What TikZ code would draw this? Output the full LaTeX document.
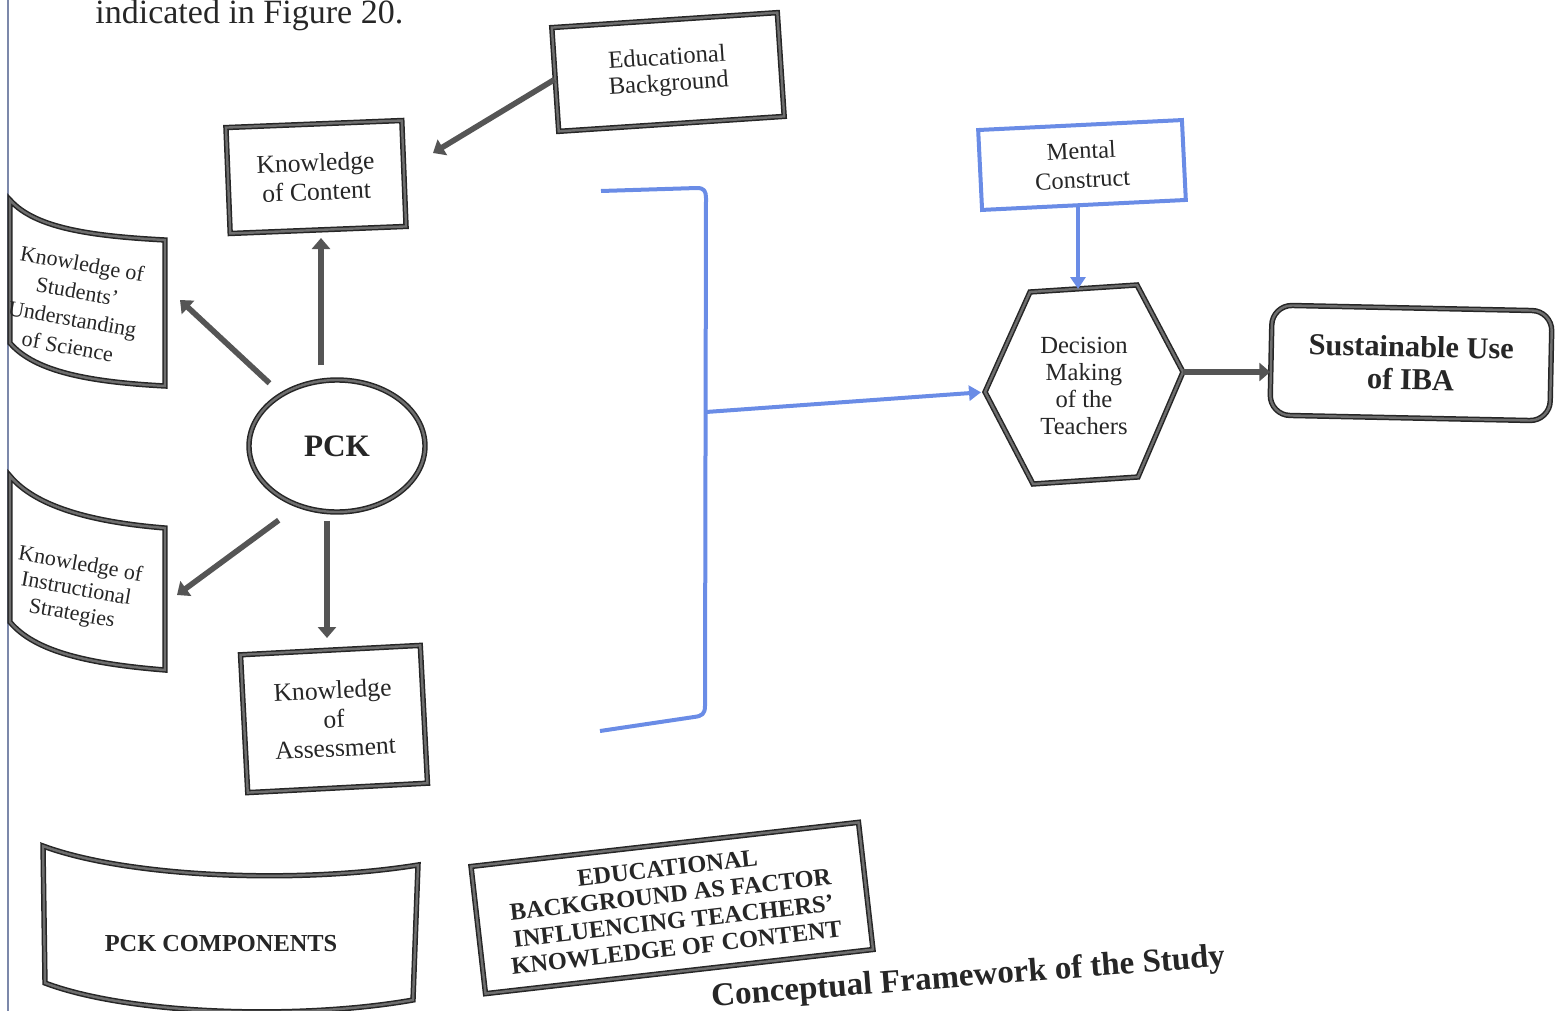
\documentclass[tikz,border=0pt]{standalone}
\usepackage{fontspec}
\setmainfont{Liberation Serif}
\usetikzlibrary{arrows.meta,calc,shapes.geometric}

\definecolor{ink}{HTML}{262626}
\definecolor{framecore}{HTML}{6E6E6E}
\definecolor{arrowgray}{HTML}{555555}
\definecolor{linkblue}{HTML}{6A8CE6}
\definecolor{pageline}{HTML}{7C88AA}

\tikzset{
  frame/.style={draw=ink, line width=0.75pt, double=framecore, double distance=1.2pt},
  box/.style={frame, fill=white, align=center, inner sep=2pt, text=ink,
    font=\fontsize{12.3}{14}\selectfont},
  bluebox/.style={draw=linkblue, line width=2pt, fill=white, align=center, text=ink,
    inner sep=2pt, font=\fontsize{12.2}{14.5}\selectfont},
  arr/.style={draw=arrowgray, line width=2.8pt, -{Triangle[length=5.5pt,width=9pt]}},
  bluearr/.style={draw=linkblue, line width=2pt, -{Triangle[length=6pt,width=7.5pt]}},
  blueline/.style={draw=linkblue, line width=2pt, line join=round},
  plain/.style={align=center, text=ink, inner sep=0pt}
}

\begin{document}
\begin{tikzpicture}[x=0.5pt,y=-0.5pt]
\useasboundingbox (0,0) rectangle (1564,1011);
\begin{scope}
\clip (0,0) rectangle (1564,1011);

% running text and page edge
\node[plain, anchor=base west, font=\fontsize{17}{20}\selectfont] (intro) at (95,24) {indicated in Figure 20.};
\draw[pageline, line width=1pt] (8,0) -- (8,1011);

% PCK components on the left
\node[box, rotate=3.8, minimum width=113pt, minimum height=52pt,
  font=\fontsize{12.3}{13}\selectfont] (eb) at (668,72) {Educational\\Background};
\node[box, rotate=2.3, minimum width=88pt, minimum height=53pt,
  font=\fontsize{12.8}{14.5}\selectfont] (kc) at (316,177) {Knowledge\\of Content};
\node[box, rotate=3, minimum width=90pt, minimum height=69pt,
  font=\fontsize{12.8}{14.5}\selectfont] (ka) at (334,719) {Knowledge\\of\\Assessment};

% curved boxes
\draw[frame, fill=white] (10,200) .. controls (35,228) and (90,236) .. (165,240)
  -- (165,386) .. controls (90,382) and (35,372) .. (10,343) -- cycle;
\node[plain, rotate=-10, font=\fontsize{11}{14}\selectfont] (ks) at (75,305)
  {Knowledge of\\Students'\\Understanding\\of Science};

\draw[frame, fill=white] (10,476) .. controls (35,506) and (90,522) .. (165,528)
  -- (165,670) .. controls (90,664) and (35,652) .. (10,622) -- cycle;
\node[plain, rotate=-10, font=\fontsize{11}{12.5}\selectfont] (kis) at (76,590)
  {Knowledge of\\Instructional\\Strategies};

% PCK
\node[frame, ellipse, fill=white, minimum width=88pt, minimum height=66pt, inner sep=0pt,
  text=ink, font=\bfseries\fontsize{15.6}{17}\selectfont] (pck) at (337,446) {PCK};

% arrow end points
\coordinate (kcIn) at (321,238);
\coordinate (ksIn) at (180,300);
\coordinate (kisIn) at (177,595);
\coordinate (kaIn) at (327,638);
\coordinate (kcSide) at (433,153);

\draw[arr] (eb.west) -- (kcSide);
\draw[arr, shorten <=7pt] (pck.north -| kcIn) -- (kcIn);
\draw[arr, shorten <=8pt] (pck) -- (ksIn);
\draw[arr, shorten <=12pt] (pck.237) -- (kisIn);
\draw[arr, shorten <=4pt] (pck.south -| kaIn) -- (kaIn);

% bracket collecting the components
\draw[blueline] (601,191) -- (697,188) .. controls (704,188) and (706,191) .. (706,198)
  -- (705,706) .. controls (705,714) and (702,716) .. (694,717) -- (600,731);
\coordinate (brk) at (706,412);

% decision making
\coordinate (dmL) at (985,392);
\coordinate (dmTL) at (1030,292);
\coordinate (dmTR) at (1137,285);
\coordinate (dmR) at (1183,372);
\coordinate (dmBR) at (1138,477);
\coordinate (dmBL) at (1033,484);
\coordinate (dmTop) at (1078,289);
\draw[frame, fill=white, line join=miter] (dmL) -- (dmTL) -- (dmTR) -- (dmR) -- (dmBR) -- (dmBL) -- cycle;
\node[plain, font=\fontsize{12.3}{13.5}\selectfont] (dm) at (1084,386)
  {Decision\\Making\\of the\\Teachers};

\node[bluebox, rotate=2.8, minimum width=102pt, minimum height=40pt] (mc) at (1082,165) {Mental\\Construct};

\node[box, rounded corners=10pt, rotate=-1.2, minimum width=140pt, minimum height=55pt,
  font=\bfseries\fontsize{15.2}{16.5}\selectfont] (su) at (1411,363) {Sustainable Use\\of IBA};

\draw[bluearr, shorten >=2pt] (brk) -- (dmL);
\draw[bluearr] (mc.south -| dmTop) -- (dmTop);
\draw[arr] (dmR) -- (dmR -| su.west);

% legend boxes
\draw[frame, fill=white] (43,846) .. controls (130,878) and (300,884) .. (418,865)
  -- (413,1000) .. controls (300,1020) and (130,1015) .. (45,983) -- cycle;
\node[plain, font=\bfseries\fontsize{12.2}{14}\selectfont] (pcc) at (221,944) {PCK COMPONENTS};

\node[box, rotate=6.5, minimum width=195pt, minimum height=64pt, inner sep=1pt,
  font=\bfseries\fontsize{12.2}{13.4}\selectfont] (ebf) at (672,908)
  {EDUCATIONAL\\BACKGROUND AS FACTOR\\INFLUENCING TEACHERS'\\KNOWLEDGE OF CONTENT};

% caption
\node[plain, anchor=base east, rotate=4.5, font=\bfseries\fontsize{16.5}{18}\selectfont] (cap)
  at (1226,966) {Conceptual Framework of the Study};
\end{scope}
\end{tikzpicture}
\end{document}
